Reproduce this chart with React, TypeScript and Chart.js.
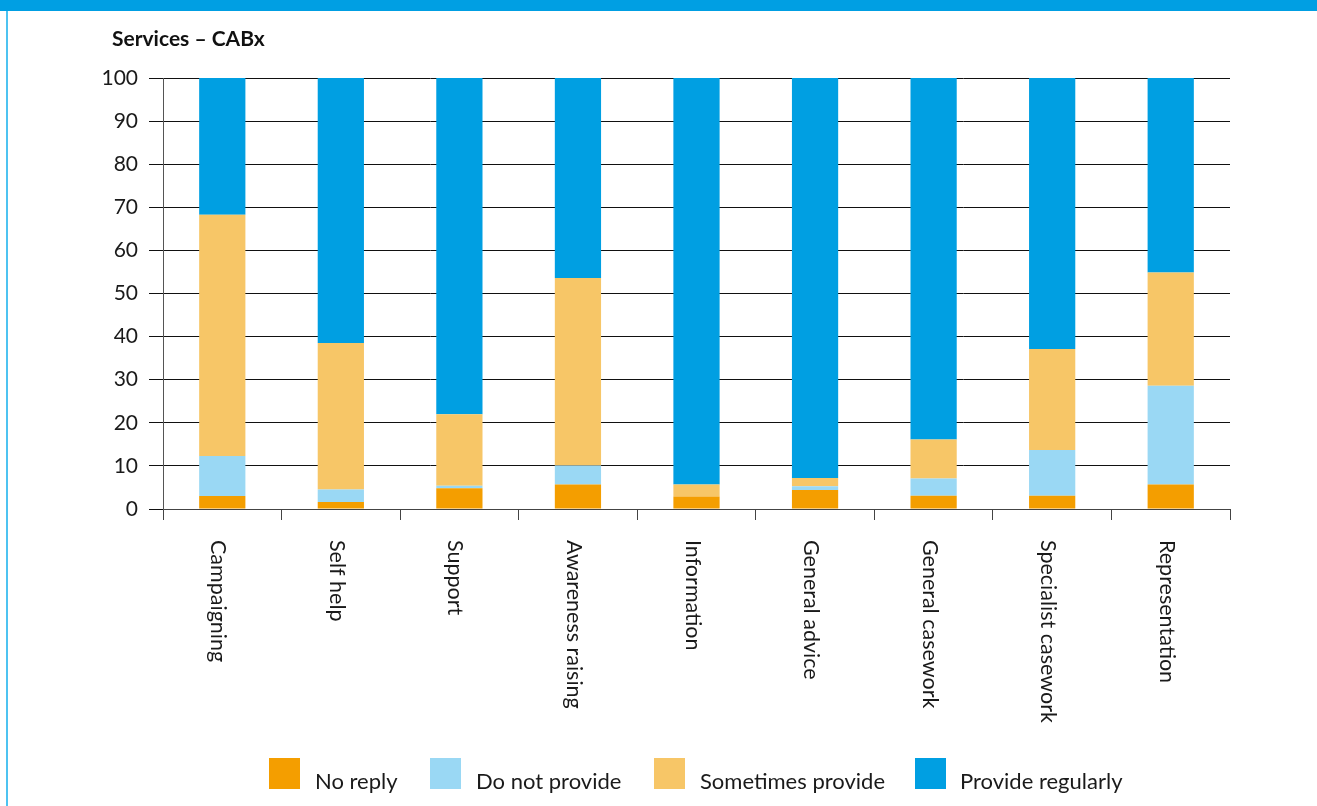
import React, { useEffect, useRef } from "react";
import { Chart, registerables } from "chart.js";

Chart.register(...registerables);

const categories = [
  "Campaigning",
  "Self help",
  "Support",
  "Awareness raising",
  "Information",
  "General advice",
  "General casework",
  "Specialist casework",
  "Representation",
];

const noReply = [3.0, 1.6, 4.8, 5.7, 2.9, 4.4, 3.1, 3.1, 5.7];
const doNotProvide = [9.3, 2.9, 0.6, 4.4, 0, 0.9, 4.0, 10.6, 22.9];
const sometimesProvide = [56.0, 34.0, 16.6, 43.5, 2.8, 1.9, 9.0, 23.4, 26.3];
const provideRegularly = [31.7, 61.5, 78.0, 46.4, 94.3, 92.8, 83.9, 62.9, 45.1];

const seriesNames = ["No reply", "Do not provide", "Sometimes provide", "Provide regularly"];
const seriesColors = ["#F49E00", "#9AD8F4", "#F7C667", "#009FE2"];

const yTicks = [0, 10, 20, 30, 40, 50, 60, 70, 80, 90, 100];

const FONT = "Lato, 'Open Sans', sans-serif";

const W = 1317;
const H = 806;

const rotatedLabels = {
  id: "rotatedLabels",
  afterDraw(chart: any) {
    const xs = chart.scales.x;
    const ctx = chart.ctx;
    ctx.save();
    ctx.font = `21.5px ${FONT}`;
    ctx.fillStyle = "#1a1a1a";
    ctx.textAlign = "left";
    ctx.textBaseline = "middle";
    categories.forEach((label, i) => {
      const x = xs.getPixelForValue(i);
      ctx.save();
      ctx.translate(x - 4, chart.chartArea.bottom + 31);
      ctx.rotate(Math.PI / 2);
      ctx.fillText(label, 0, 0);
      ctx.restore();
    });
    ctx.restore();
  },
};

export default function App() {
  const canvasRef = useRef<HTMLCanvasElement | null>(null);

  useEffect(() => {
    const canvas = canvasRef.current;
    if (!canvas) return;
    const datasets = [noReply, doNotProvide, sometimesProvide, provideRegularly].map((d, i) => ({
      label: seriesNames[i],
      data: d,
      backgroundColor: seriesColors[i],
      borderWidth: 0,
      categoryPercentage: 1,
      barPercentage: 0.39,
    }));
    const chart = new Chart(canvas, {
      type: "bar",
      data: { labels: categories, datasets },
      options: {
        animation: false,
        responsive: false,
        devicePixelRatio: 1,
        layout: { padding: { left: 0, top: 78, right: 87, bottom: 0 } },
        plugins: {
          legend: { display: false },
          tooltip: { enabled: false },
          title: { display: false },
        },
        scales: {
          x: {
            stacked: true,
            grid: {
              display: true,
              drawOnChartArea: false,
              drawTicks: true,
              tickLength: 11,
              color: "#444",
              lineWidth: 1,
              offset: true,
            },
            border: { display: true, color: "#444", width: 1 },
            ticks: { display: false },
            afterFit: (s: any) => {
              s.height = H - 509;
            },
          },
          y: {
            stacked: true,
            min: 0,
            max: 100,
            afterBuildTicks: (s: any) => {
              s.ticks = yTicks.map((v) => ({ value: v }));
            },
            grid: {
              color: "#111",
              lineWidth: 1,
              tickLength: 14,
              drawTicks: true,
            },
            border: { display: true, color: "#555", width: 1 },
            ticks: {
              padding: 11,
              color: "#1a1a1a",
              font: { family: FONT, size: 21 },
            },
            afterFit: (s: any) => {
              s.width = 163;
            },
          },
        },
      },
      plugins: [rotatedLabels],
    });
    return () => chart.destroy();
  }, []);

  const legendPos = [
    { sq: 269, tx: 315 },
    { sq: 430, tx: 476 },
    { sq: 654, tx: 700 },
    { sq: 915, tx: 960 },
  ];

  return (
    <div
      style={{
        position: "fixed",
        left: 0,
        top: 0,
        width: W,
        height: H,
        background: "#fff",
        overflow: "hidden",
        fontFamily: FONT,
      }}
    >
      <div style={{ position: "absolute", left: 0, top: 0, width: W, height: 11, background: "#009FE3" }} />
      <div style={{ position: "absolute", left: 6, top: 11, width: 2, height: H - 11, background: "#4DC3F1" }} />
      <canvas ref={canvasRef} width={W} height={H} style={{ position: "absolute", left: 0, top: 0, width: W, height: H }} />
      <div
        style={{
          position: "absolute",
          left: 112,
          top: 27,
          fontSize: 21,
          lineHeight: "21px",
          fontWeight: 700,
          color: "#111",
          whiteSpace: "nowrap",
        }}
      >
        Services – CABx
      </div>
      {seriesNames.map((name, i) => (
        <React.Fragment key={name}>
          <div
            style={{
              position: "absolute",
              left: legendPos[i].sq,
              top: 758,
              width: 31,
              height: 31,
              background: seriesColors[i],
            }}
          />
          <div
            style={{
              position: "absolute",
              left: legendPos[i].tx,
              top: 770,
              fontSize: 22,
              lineHeight: "22px",
              color: "#1a1a1a",
              whiteSpace: "nowrap",
            }}
          >
            {name}
          </div>
        </React.Fragment>
      ))}
    </div>
  );
}
